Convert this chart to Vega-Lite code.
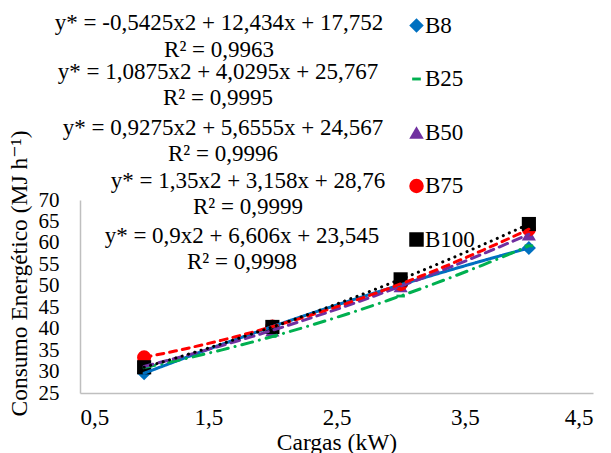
{
  "$schema": "https://vega.github.io/schema/vega-lite/v6.json",
  "width": 513,
  "height": 193,
  "autosize": {"type": "none"},
  "padding": {"left": 80, "top": 200, "right": 18, "bottom": 60},
  "background": "white",
  "config": {
    "view": {"stroke": null},
    "font": "Times New Roman, Liberation Serif, DejaVu Serif, serif",
    "axis": {"grid": false, "ticks": false, "tickSize": 0, "labelOverlap": false, "domainColor": "#BFBFBF", "domainWidth": 1.5, "labelFont": "Times New Roman, Liberation Serif, DejaVu Serif, serif", "labelFontSize": 23, "labelColor": "#000000", "titleFont": "Times New Roman, Liberation Serif, DejaVu Serif, serif", "titleFontSize": 23.5, "titleFontWeight": "normal", "titleColor": "#000000"},
    "legend": {"labelFont": "Times New Roman, Liberation Serif, DejaVu Serif, serif"},
    "text": {"font": "Times New Roman, Liberation Serif, DejaVu Serif, serif"}
  },
  "datasets": {
    "pts": [
      {"series": "B8", "carga": 1, "consumo": 29.6},
      {"series": "B8", "carga": 2, "consumo": 40.5},
      {"series": "B8", "carga": 3, "consumo": 50.2},
      {"series": "B8", "carga": 4, "consumo": 58.8},
      {"series": "B25", "carga": 1, "consumo": 30.9},
      {"series": "B25", "carga": 2, "consumo": 38.2},
      {"series": "B25", "carga": 3, "consumo": 47.6},
      {"series": "B25", "carga": 4, "consumo": 59.3},
      {"series": "B50", "carga": 1, "consumo": 31.2},
      {"series": "B50", "carga": 2, "consumo": 39.6},
      {"series": "B50", "carga": 3, "consumo": 49.9},
      {"series": "B50", "carga": 4, "consumo": 62.0},
      {"series": "B75", "carga": 1, "consumo": 33.3},
      {"series": "B75", "carga": 2, "consumo": 40.5},
      {"series": "B75", "carga": 3, "consumo": 50.4},
      {"series": "B75", "carga": 4, "consumo": 63.2},
      {"series": "B100", "carga": 1, "consumo": 31.0},
      {"series": "B100", "carga": 2, "consumo": 40.4},
      {"series": "B100", "carga": 3, "consumo": 51.5},
      {"series": "B100", "carga": 4, "consumo": 64.4}
    ],
    "eqs": [
      {"series": "B8", "carga": 1.584, "consumo": 111.2, "lines": ["y* = -0,5425x2 + 12,434x + 17,752", "R² = 0,9963"]},
      {"series": "B25", "carga": 1.576, "consumo": 99.9, "lines": ["y* = 1,0875x2 + 4,0295x + 25,767", "R² = 0,9995"]},
      {"series": "B50", "carga": 1.615, "consumo": 86.8, "lines": ["y* = 0,9275x2 + 5,6555x + 24,567", "R² = 0,9996"]},
      {"series": "B75", "carga": 1.810, "consumo": 74.5, "lines": ["y* = 1,35x2 + 3,158x + 28,76", "R² = 0,9999"]},
      {"series": "B100", "carga": 1.763, "consumo": 61.7, "lines": ["y* = 0,9x2 + 6,606x + 23,545", "R² = 0,9998"]}
    ]
  },
  "encoding": {
    "x": {
      "field": "carga", "type": "quantitative",
      "scale": {"domain": [0.5, 4.5], "nice": false, "zero": false},
      "axis": {"values": [0.5, 1.5, 2.5, 3.5, 4.5], "labelExpr": "replace(format(datum.value, '.1f'), '.', ',')", "labelPadding": 13, "title": "Cargas (kW)", "titleBaseline": "alphabetic", "titleY": 56}
    },
    "y": {
      "field": "consumo", "type": "quantitative",
      "scale": {"domain": [25, 70], "nice": false, "zero": false},
      "axis": {"values": [25, 30, 35, 40, 45, 50, 55, 60, 65, 70], "labelFontSize": 21, "labelPadding": 21, "title": "Consumo Energético (MJ h⁻¹)", "titleBaseline": "alphabetic", "titleX": -54, "titleY": 73, "titleAngle": -90}
    }
  },
  "layer": [
    {
      "data": {"name": "pts"},
      "mark": {"type": "point", "filled": true, "size": 200, "opacity": 1, "strokeWidth": 0},
      "encoding": {
        "color": {
          "field": "series", "type": "nominal",
          "scale": {"domain": ["B8", "B25", "B50", "B75", "B100"], "range": ["#0070C0", "#00B050", "#7030A0", "#FF0000", "#000000"]},
          "legend": {"title": null, "orient": "none", "legendX": 325, "legendY": -186, "direction": "vertical", "labelFontSize": 23, "labelColor": "#000000", "symbolSize": 210, "symbolOpacity": 1, "symbolStrokeWidth": 0, "rowPadding": 29.5, "labelOffset": -3, "padding": 0}
        },
        "shape": {
          "field": "series", "type": "nominal",
          "scale": {"domain": ["B8", "B25", "B50", "B75", "B100"], "range": ["diamond", "M-0.6,-0.2L0.6,-0.2L0.6,0.2L-0.6,0.2Z", "triangle-up", "circle", "square"]},
          "legend": {"title": null, "orient": "none", "legendX": 325, "legendY": -186, "direction": "vertical", "labelFontSize": 23, "labelColor": "#000000", "symbolSize": 210, "symbolOpacity": 1, "symbolStrokeWidth": 0, "rowPadding": 29.5, "labelOffset": -3, "padding": 0}
        }
      }
    },
    {
      "data": {"name": "pts"},
      "transform": [
        {"regression": "consumo", "on": "carga", "groupby": ["series"], "method": "poly", "order": 2, "extent": [1, 4]}
      ],
      "mark": {"type": "line", "strokeWidth": 3, "strokeCap": "round"},
      "encoding": {
        "stroke": {
          "field": "series", "type": "nominal",
          "scale": {"domain": ["B8", "B25", "B50", "B75", "B100"], "range": ["#0070C0", "#00B050", "#7030A0", "#FF0000", "#000000"]},
          "legend": null
        },
        "strokeDash": {
          "field": "series", "type": "nominal",
          "scale": {"domain": ["B8", "B25", "B50", "B75", "B100"], "range": [[1, 0], [11, 7, 0.1, 7], [9, 6], [7, 6], [0.1, 6.5]]},
          "legend": null
        }
      }
    },
    {
      "data": {"name": "eqs"},
      "mark": {"type": "text", "align": "center", "baseline": "middle", "fontSize": 23, "lineHeight": 26.5, "color": "#000000"},
      "encoding": {
        "text": {"field": "lines"}
      }
    }
  ]
}
